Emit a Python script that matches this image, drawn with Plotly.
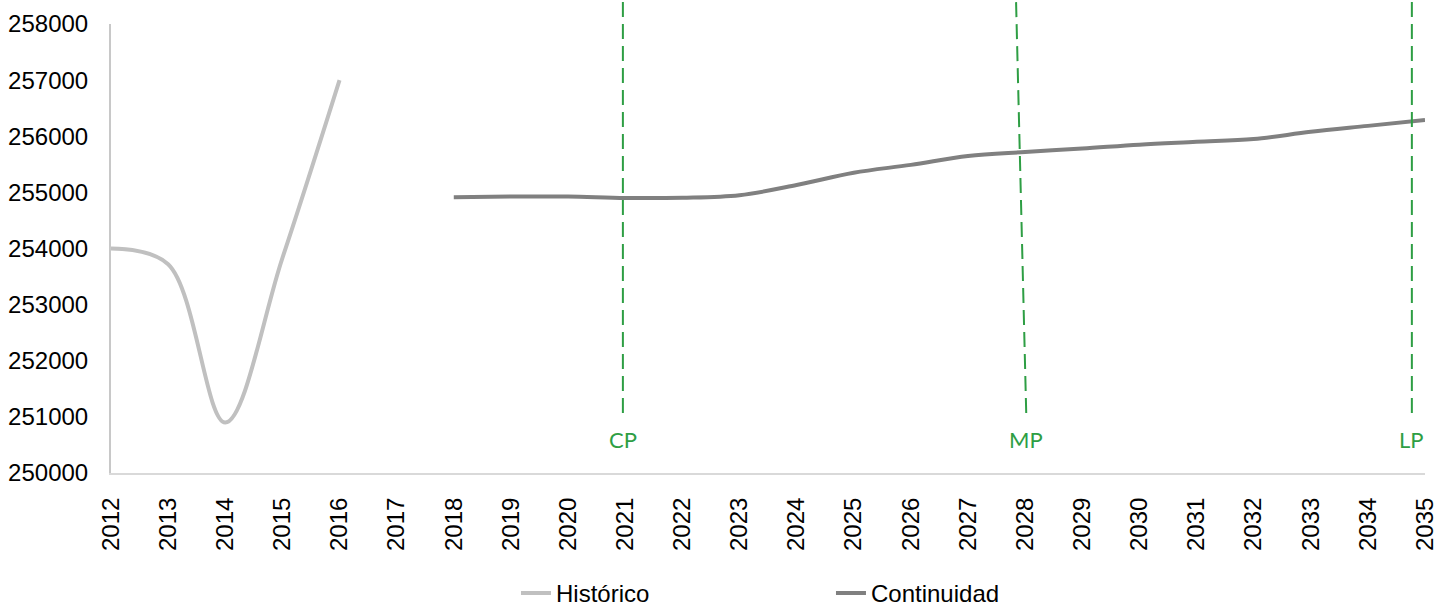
import plotly.graph_objects as go

years = list(range(2012, 2036))
hist_years = [2012, 2013, 2014, 2015, 2016]
hist_values = [254000, 253720, 250900, 253830, 257000]
cont_years = list(range(2018, 2036))
cont_values = [254915, 254925, 254925, 254900, 254905, 254950, 255130, 255350,
               255490, 255650, 255720, 255780, 255850, 255900, 255950, 256080,
               256185, 256290]
y_ticks = list(range(250000, 258001, 1000))

# horizon markers: (label, x at top, x at bottom)
horizons = [("CP", 2020.96, 2020.96), ("MP", 2027.84, 2028.02), ("LP", 2034.77, 2034.77)]
GREEN = "#2E9E44"

fig = go.Figure()
fig.add_trace(go.Scatter(x=hist_years, y=hist_values, name="Histórico", mode="lines",
                         line=dict(color="#C0C0C0", width=4, shape="spline", smoothing=1)))
fig.add_trace(go.Scatter(x=cont_years, y=cont_values, name="Continuidad", mode="lines",
                         line=dict(color="#808080", width=4, shape="spline", smoothing=1)))

for lab, xt, xb in horizons:
    fig.add_shape(type="line", xref="x", yref="paper", x0=xb, x1=xt, y0=0.1336, y1=1.06,
                  line=dict(color=GREEN, width=2, dash="15px,7px"), layer="above")
    fig.add_annotation(x=xb, xref="x", y=0.075, yref="paper", text=lab, showarrow=False,
                       font=dict(family="Lato", size=22, color=GREEN),
                       xanchor="center", yanchor="middle")

fig.update_layout(
    width=1437, height=607,
    margin=dict(l=111, r=12, t=24, b=134, autoexpand=False),
    paper_bgcolor="white", plot_bgcolor="white",
    font=dict(family="Liberation Sans, Arial", size=24, color="#000000"),
    showlegend=True,
    legend=dict(orientation="h", x=0.3082, xanchor="left", y=-0.268, yanchor="middle",
                entrywidth=270, font=dict(size=24, color="#000000"),
                bgcolor="rgba(0,0,0,0)"),
)
fig.update_xaxes(range=[2012, 2035], tickmode="array", tickvals=years,
                 ticktext=[str(y) for y in years], tickangle=-90,
                 showgrid=False, zeroline=False, showline=True, linecolor="#D9D9D9",
                 linewidth=2, ticks="", ticklabelstandoff=13, automargin=False,
                 ticklabeloverflow="allow")
fig.update_yaxes(range=[250000, 258000], tickmode="array", tickvals=y_ticks,
                 ticktext=[str(v) for v in y_ticks],
                 showgrid=False, zeroline=False, showline=True, linecolor="#C8C8C8",
                 linewidth=2, ticks="", ticklabelstandoff=16, automargin=False,
                 ticklabeloverflow="allow")

fig.write_html("out.html")
